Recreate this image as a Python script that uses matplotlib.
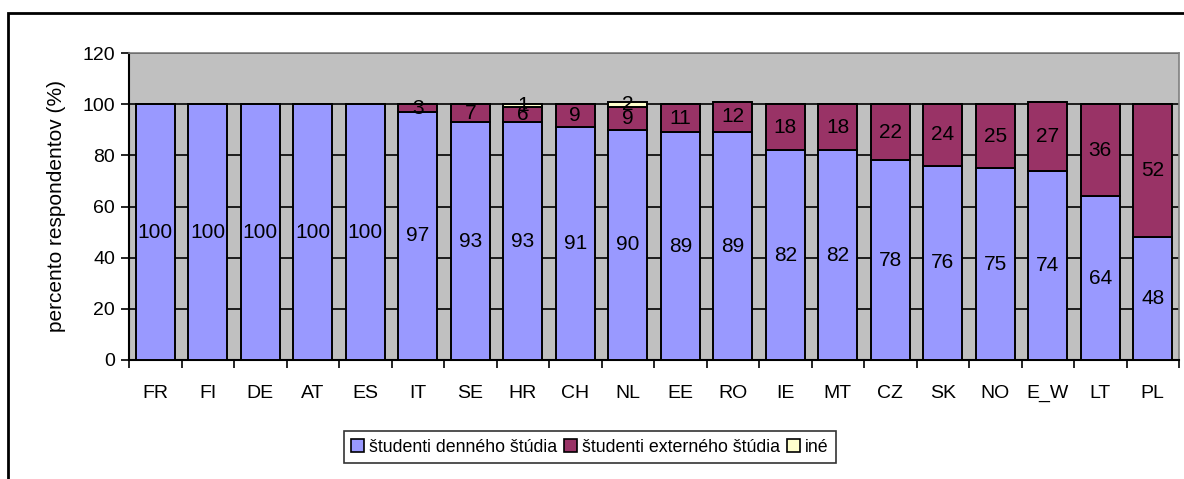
import matplotlib
matplotlib.use("Agg")
import matplotlib.pyplot as plt
from matplotlib.patches import Rectangle, Patch
import numpy as np

plt.rcParams['font.family'] = ['Liberation Sans', 'DejaVu Sans']

countries = ["FR", "FI", "DE", "AT", "ES", "IT", "SE", "HR", "CH", "NL",
             "EE", "RO", "IE", "MT", "CZ", "SK", "NO", "E_W", "LT", "PL"]
denne = [100, 100, 100, 100, 100, 97, 93, 93, 91, 90, 89, 89, 82, 82, 78, 76, 75, 74, 64, 48]
externe = [0, 0, 0, 0, 0, 3, 7, 6, 9, 9, 11, 12, 18, 18, 22, 24, 25, 27, 36, 52]
ine = [0, 0, 0, 0, 0, 0, 0, 1, 0, 2, 0, 0, 0, 0, 0, 0, 0, 0, 0, 0]
series_names = ["študenti denného štúdia", "študenti externého štúdia", "iné"]
yticks = [0, 20, 40, 60, 80, 100, 120]
ylabel = "percento respondentov (%)"

colors = ["#9999FF", "#993366", "#FFFFCC"]

fig = plt.figure(figsize=(11.84, 4.79), dpi=100)
ax = fig.add_axes([129/1184, 1-360/479, (1179-129)/1184, (360-53)/479])
ax.set_facecolor("#C0C0C0")

x = np.arange(len(countries))
w = 0.74
d = np.array(denne, float)
e = np.array(externe, float)
o = np.array(ine, float)

ax.set_axisbelow(True)
ax.yaxis.grid(True, color="black", linewidth=1.2)

ax.bar(x, d, w, color=colors[0], edgecolor="black", linewidth=1.4, zorder=3)
ax.bar(x, e, w, bottom=d, color=colors[1], edgecolor="black", linewidth=1.4, zorder=3)
ax.bar(x, o, w, bottom=d + e, color=colors[2], edgecolor="black", linewidth=1.4, zorder=3)

fs_bar = 15
fs_tick = 14
for i in range(len(x)):
    ax.text(x[i], d[i] / 2, f"{int(d[i])}", ha="center", va="center", fontsize=fs_bar, zorder=5)
    if e[i] > 0:
        ax.text(x[i], d[i] + e[i] / 2, f"{int(e[i])}", ha="center", va="center", fontsize=fs_bar, zorder=5)
    if o[i] > 0:
        ax.text(x[i], d[i] + e[i] + o[i] / 2, f"{int(o[i])}", ha="center", va="center", fontsize=fs_bar, zorder=5)

ax.set_xlim(-0.5, len(x) - 0.5)
ax.set_ylim(0, 120)
ax.set_yticks(yticks)
ax.set_yticklabels([str(t) for t in yticks], fontsize=fs_tick)
ax.set_xticks(x)
ax.set_xticklabels(countries, fontsize=fs_tick)
ax.tick_params(axis="x", length=0, pad=18)
ax.set_xticks(np.arange(-0.5, len(x), 1), minor=True)
ax.tick_params(axis="x", which="minor", length=6, width=1.2, direction="out", color="black")
ax.tick_params(axis="y", length=6, width=1.2, direction="out", pad=4)
ax.set_ylabel(ylabel, fontsize=15, labelpad=12)

for s in ["left", "bottom"]:
    ax.spines[s].set_color("black")
    ax.spines[s].set_linewidth(1.5)
for s in ["top", "right"]:
    ax.spines[s].set_color("#808080")
    ax.spines[s].set_linewidth(1.2)

handles = [Patch(facecolor=c, edgecolor="black", linewidth=1.2) for c in colors]
leg = fig.legend(handles, series_names, loc="center", bbox_to_anchor=(590/1184, 1-447/479),
                 ncol=3, frameon=True, fancybox=False, fontsize=12.8,
                 handlelength=0.7, handleheight=0.7, handletextpad=0.3,
                 columnspacing=0.4, borderpad=0.4, borderaxespad=0, edgecolor="black")
leg.get_frame().set_linewidth(1.2)

frame = Rectangle((8/1184, -0.1), 1.2, 1 - 13/479 + 0.1, transform=fig.transFigure,
                  fill=False, edgecolor="black", linewidth=2, clip_on=False)
fig.patches.append(frame)

fig.savefig("out.png", dpi=100)
